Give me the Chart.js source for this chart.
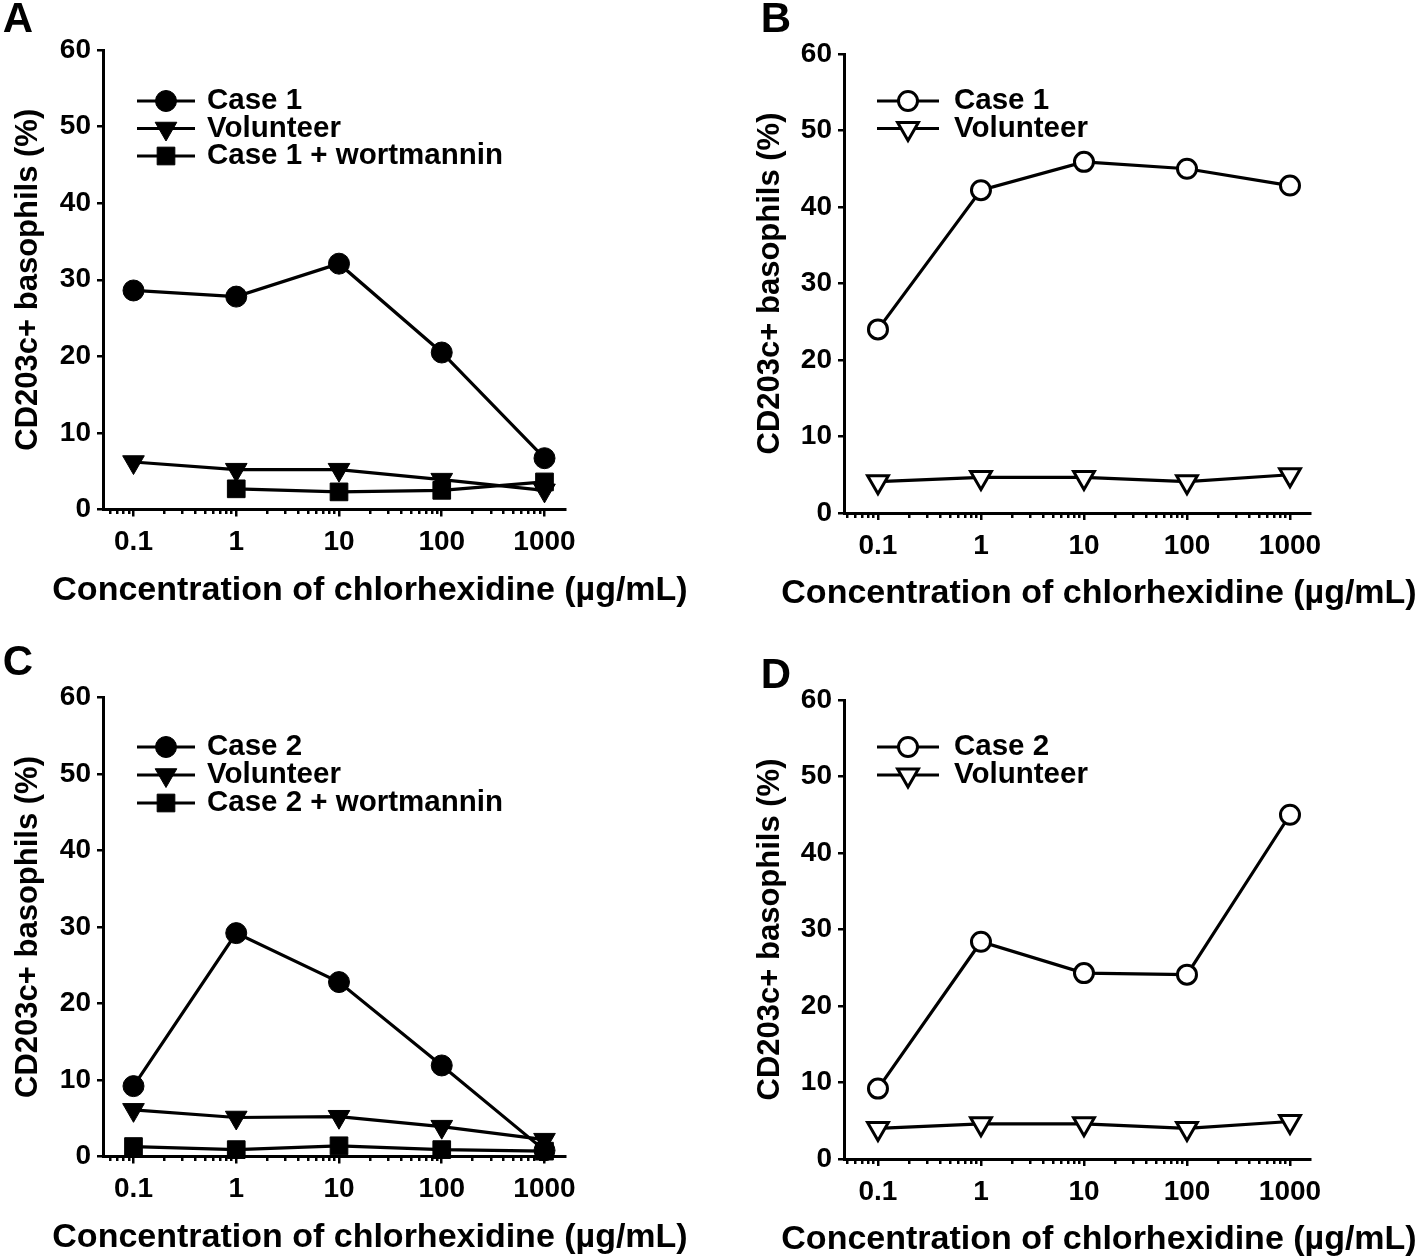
<!DOCTYPE html>
<html>
<head>
<meta charset="utf-8">
<script src="https://cdn.jsdelivr.net/npm/chart.js@4.4.1/dist/chart.umd.min.js"></script>
<style>
  body { margin: 0; background: #fff; }
  #wrap { position: relative; width: 1417px; height: 1259px; }
  canvas { position: absolute; }
</style>
</head>
<body>
<div id="wrap">
  <canvas id="panelA" width="708" height="640" style="left:0;top:0"></canvas>
  <canvas id="panelB" width="709" height="640" style="left:708px;top:0"></canvas>
  <canvas id="panelC" width="708" height="619" style="left:0;top:640px"></canvas>
  <canvas id="panelD" width="709" height="619" style="left:708px;top:640px"></canvas>
</div>
<script>
// concentrations of chlorhexidine (ug/mL), log axis
const concentrations = [0.1, 1, 10, 100, 1000];
const xTickLabels = ['0.1', '1', '10', '100', '1000'];

// panel A
const case1 = [28.6, 27.8, 32.1, 20.5, 6.7];
const volunteerA = [6.2, 5.2, 5.2, 3.9, 2.5];
const case1Wortmannin = [null, 2.7, 2.3, 2.5, 3.6];
// panel B
const case1B = [24.0, 42.2, 45.9, 45.0, 42.8];
const volunteerB = [4.1, 4.65, 4.65, 4.1, 5.0];
// panel C
const case2 = [9.2, 29.2, 22.8, 11.9, 0.8];
const volunteerC = [6.1, 5.1, 5.2, 3.9, 2.2];
const case2Wortmannin = [1.3, 0.9, 1.4, 0.9, 0.7];
// panel D
const case2D = [9.2, 28.4, 24.3, 24.1, 45.0];
const volunteerD = [4.0, 4.6, 4.6, 4.0, 4.9];

const yTitle = 'CD203c+ basophils (%)';
const xTitle = 'Concentration of chlorhexidine (\u00b5g/mL)';
const FONT = 'Liberation Sans';

// log tick positions: 1..9 x each decade, labels only on the decades
const decades = [0.01, 0.1, 1, 10, 100, 1000];
const xTickValues = [];
decades.forEach(d => { for (let k = 1; k <= 9; k++) xTickValues.push(k === 1 ? d : d * k); });

function points(values) {
  return concentrations.map((x, i) => ({ x: x, y: values[i] }));
}

const filledCircle = { pointStyle: 'circle', pointRadius: 10.5, pointBackgroundColor: '#000', pointBorderWidth: 1 };
const filledTriangle = { pointStyle: 'triangle', pointRotation: 180, pointRadius: 12.5, pointBackgroundColor: '#000', pointBorderWidth: 1 };
const filledSquare = { pointStyle: 'rect', pointRadius: 12.5, pointBackgroundColor: '#000', pointBorderWidth: 1 };
const openCircle = { pointStyle: 'circle', pointRadius: 9.5, pointBackgroundColor: '#fff', pointBorderWidth: 3 };
const openTriangle = { pointStyle: 'triangle', pointRotation: 180, pointRadius: 12, pointBackgroundColor: '#fff', pointBorderWidth: 3 };

function series(label, values, marker) {
  return Object.assign({
    label: label,
    data: points(values),
    borderColor: '#000',
    borderWidth: 3.2,
    pointBorderColor: '#000',
    tension: 0,
    clip: false
  }, marker);
}

// legend drawn inside the plot: line - marker - line, then the label
const insideLegend = {
  id: 'insideLegend',
  afterDraw(chart, args, opts) {
    const ctx = chart.ctx;
    ctx.save();
    chart.data.datasets.forEach((ds, i) => {
      const y = opts.rows[i];
      ctx.strokeStyle = '#000';
      ctx.lineWidth = ds.borderWidth;
      ctx.beginPath();
      ctx.moveTo(opts.lineFrom, y);
      ctx.lineTo(opts.lineTo, y);
      ctx.stroke();
      ctx.fillStyle = ds.pointBackgroundColor;
      ctx.lineWidth = ds.pointBorderWidth;
      Chart.helpers.drawPoint(ctx, {
        pointStyle: ds.pointStyle,
        rotation: ds.pointRotation || 0,
        radius: ds.pointRadius,
        borderWidth: ds.pointBorderWidth
      }, (opts.lineFrom + opts.lineTo) / 2, y);
      ctx.fillStyle = '#000';
      ctx.font = 'bold 29.5px "' + FONT + '"';
      ctx.textAlign = 'left';
      ctx.textBaseline = 'middle';
      ctx.fillText(ds.label, opts.textX, y);
    });
    ctx.restore();
  }
};

// panel letter and x axis title
const panelText = {
  id: 'panelText',
  afterDraw(chart, args, opts) {
    const ctx = chart.ctx;
    ctx.save();
    ctx.fillStyle = '#000';
    ctx.textAlign = 'center';
    ctx.textBaseline = 'middle';
    ctx.font = 'bold 42px "' + FONT + '"';
    ctx.fillText(opts.letter, opts.letterX, opts.letterY);
    ctx.font = 'bold 34px "' + FONT + '"';
    ctx.fillText(xTitle, opts.titleX, opts.titleY);
    ctx.restore();
  }
};

function isDecade(c) {
  return c.tick && concentrations.indexOf(c.tick.value) >= 0;
}

function makeChart(id, p, datasets) {
  const canvas = document.getElementById(id);
  new Chart(canvas, {
    type: 'line',
    data: { datasets: datasets },
    options: {
      responsive: false,
      animation: false,
      layout: { padding: { left: 0, top: p.top, right: canvas.width - p.right, bottom: 0 } },
      plugins: {
        legend: { display: false },
        tooltip: { enabled: false },
        insideLegend: p.legend,
        panelText: p.text
      },
      scales: {
        x: {
          type: 'logarithmic',
          min: p.xMin,
          max: p.xMax,
          afterBuildTicks: (axis) => {
            axis.ticks = xTickValues
              .filter(v => v >= axis.min && v <= axis.max)
              .map(v => ({ value: v }));
          },
          afterFit: (axis) => { axis.height = canvas.height - p.bottom; },
          ticks: {
            autoSkip: false,
            maxRotation: 0,
            padding: 9,
            color: '#000',
            font: { family: FONT, weight: 'bold', size: 28 },
            callback: (value) => {
              const i = concentrations.indexOf(value);
              return i >= 0 ? xTickLabels[i] : '';
            }
          },
          grid: {
            drawOnChartArea: false, drawTicks: true, tickLength: 7, color: '#000', lineWidth: 2.5,
            tickBorderDash: (c) => isDecade(c) ? [] : [3, 20]
          },
          border: { display: true, color: '#000', width: 3 }
        },
        y: {
          min: 0,
          max: 60,
          afterFit: (axis) => { axis.width = p.left; },
          ticks: {
            stepSize: 10,
            padding: 6,
            color: '#000',
            font: { family: FONT, weight: 'bold', size: 28 }
          },
          title: {
            display: true,
            text: yTitle,
            color: '#000',
            font: { family: FONT, weight: 'bold', size: 31 },
            padding: { top: p.yTitlePad, bottom: 0 }
          },
          grid: { drawOnChartArea: false, drawTicks: true, tickLength: 6, color: '#000', lineWidth: 2.5 },
          border: { display: true, color: '#000', width: 3 }
        }
      }
    },
    plugins: [insideLegend, panelText]
  });
}

makeChart('panelA', {
  left: 103, top: 50, right: 565, bottom: 509.5, xMin: 0.0505, xMax: 1583, yTitlePad: 9.5,
  legend: { rows: [101, 128.5, 156], lineFrom: 137, lineTo: 195, textX: 207 },
  text: { letter: 'A', letterX: 18, letterY: 20, titleX: 370, titleY: 591 }
}, [
  series('Case 1', case1, filledCircle),
  series('Volunteer', volunteerA, filledTriangle),
  series('Case 1 + wortmannin', case1Wortmannin, filledSquare)
]);

makeChart('panelB', {
  left: 136, top: 54, right: 602, bottom: 513, xMin: 0.0468, xMax: 1564, yTitlePad: 43.5,
  legend: { rows: [101, 128.5], lineFrom: 169, lineTo: 231, textX: 246 },
  text: { letter: 'B', letterX: 68, letterY: 20, titleX: 391, titleY: 594 }
}, [
  series('Case 1', case1B, openCircle),
  series('Volunteer', volunteerB, openTriangle)
]);

makeChart('panelC', {
  left: 103, top: 57.5, right: 565, bottom: 516.5, xMin: 0.0505, xMax: 1583, yTitlePad: 9.5,
  legend: { rows: [107, 135, 163], lineFrom: 137, lineTo: 195, textX: 207 },
  text: { letter: 'C', letterX: 18, letterY: 23, titleX: 370, titleY: 598 }
}, [
  series('Case 2', case2, filledCircle),
  series('Volunteer', volunteerC, filledTriangle),
  series('Case 2 + wortmannin', case2Wortmannin, filledSquare)
]);

makeChart('panelD', {
  left: 136, top: 60, right: 602, bottom: 519, xMin: 0.0468, xMax: 1564, yTitlePad: 43.5,
  legend: { rows: [107, 135], lineFrom: 169, lineTo: 231, textX: 246 },
  text: { letter: 'D', letterX: 68, letterY: 36, titleX: 391, titleY: 600 }
}, [
  series('Case 2', case2D, openCircle),
  series('Volunteer', volunteerD, openTriangle)
]);
</script>
</body>
</html>
